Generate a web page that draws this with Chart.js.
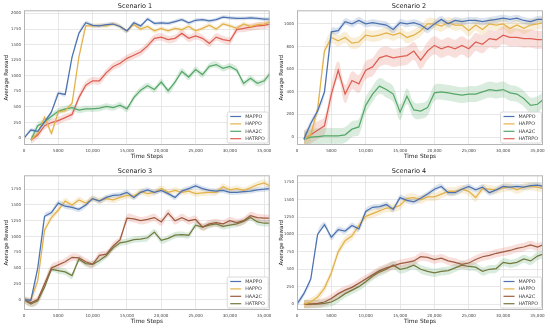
<!DOCTYPE html>
<html>
<head>
<meta charset="utf-8">
<script src="https://cdn.jsdelivr.net/npm/chart.js@4"></script>
<style>
  body { margin: 0; background: #fff; width: 550px; height: 329px; overflow: hidden; position: relative; }
  canvas { position: absolute; }
</style>
</head>
<body>
<canvas id="c1" width="275" height="165" style="left:0;top:0"></canvas>
<canvas id="c2" width="275" height="165" style="left:275px;top:0"></canvas>
<canvas id="c3" width="275" height="165" style="left:0;top:165px"></canvas>
<canvas id="c4" width="275" height="165" style="left:275px;top:165px"></canvas>
<script>
// time steps shared by every curve
const steps = [0, 1000, 2000, 3000, 4000, 5000, 6000, 7000, 8000, 9000, 10000, 11000, 12000, 13000, 14000, 15000,
  16000, 17000, 18000, 19000, 20000, 21000, 22000, 23000, 24000, 25000, 26000, 27000, 28000, 29000, 30000,
  31000, 32000, 33000, 34000, 35000, 35800];

const algos = ['MAPPO', 'HAPPO', 'HAA2C', 'HATRPO'];
const titles = ['Scenario 1', 'Scenario 2', 'Scenario 3', 'Scenario 4'];

const xTicks = [0, 5000, 10000, 15000, 20000, 25000, 30000, 35000];
const xTickLabels = ['0', '5000', '10,000', '15,000', '20,000', '25,000', '30,000', '35,000'];
const yTicks1 = [0, 250, 500, 750, 1000, 1250, 1500, 1750, 2000];
const yTicks2 = [0, 200, 400, 600, 800, 1000];
const yTicks3 = [0, 250, 500, 750, 1000, 1250, 1500, 1750];
const yTicks4 = [0, 250, 500, 750, 1000, 1250, 1500, 1750];

// Scenario 1
const s1Mappo = [0, 130, 110, 260, 420, 720, 700, 1300, 1680, 1850, 1810, 1800, 1820, 1830, 1790, 1720, 1850, 1800, 1910, 1840, 1850, 1840, 1870, 1900, 1850, 1890, 1900, 1880, 1900, 1940, 1930, 1920, 1920, 1930, 1920, 1910, 1910];
const s1Happo = [null, -30, 80, 330, 80, 420, 440, 560, 1300, 1800, 1800, 1810, 1800, 1830, 1790, 1720, 1820, 1750, 1790, 1720, 1760, 1720, 1760, 1740, 1790, 1720, 1760, 1810, 1750, 1830, 1800, 1760, 1830, 1790, 1820, 1830, 1860];
const s1Haa2c = [null, -30, 200, 260, 350, 430, 470, 490, 450, 470, 470, 480, 510, 490, 530, 470, 650, 770, 840, 780, 900, 760, 900, 1070, 980, 1100, 1020, 1150, 1180, 1120, 1150, 1090, 880, 960, 880, 920, 1030];
const s1Hatrpo = [null, -30, 50, 200, 250, 280, 330, 380, 650, 850, 920, 920, 1050, 1150, 1200, 1280, 1330, 1380, 1480, 1600, 1620, 1580, 1600, 1680, 1600, 1640, 1600, 1520, 1620, 1580, 1560, 1740, 1760, 1780, 1800, 1810, 1830];
const s1Band = [30, 35, 50, 60];

// Scenario 2
const s2Mappo = [null, -20, 120, 230, 400, 930, 940, 1020, 1000, 1030, 1000, 1010, 1000, 990, 950, 1010, 1000, 1010, 990, 950, 1000, 1040, 1000, 1030, 1020, 1030, 1030, 1020, 1030, 1040, 1050, 1040, 1050, 1030, 1020, 1040, 1040];
const s2Happo = [null, -20, 20, 250, 760, 880, 850, 880, 830, 840, 900, 890, 900, 920, 900, 920, 880, 900, 940, 1000, 1000, 980, 1010, 990, 990, 940, 990, 950, 1000, 990, 1000, 960, 990, 960, 990, 1000, 1010];
const s2Haa2c = [null, -20, 0, 5, 10, 10, 10, 20, 70, 90, 280, 380, 450, 420, 380, 220, 360, 240, 230, 260, 390, 400, 390, 380, 370, 380, 380, 400, 420, 410, 420, 390, 380, 340, 280, 290, 330];
const s2Hatrpo = [null, -20, 20, 60, 100, 380, 590, 380, 500, 470, 590, 620, 700, 720, 700, 710, 720, 760, 680, 760, 810, 780, 800, 780, 810, 780, 840, 820, 870, 860, 900, 880, 880, 870, 870, 860, 860];
const s2Band = [30, 50, 70, 80];

// Scenario 3
const s3Mappo = [0, -10, 500, 1320, 1380, 1530, 1480, 1460, 1430, 1500, 1600, 1560, 1620, 1650, 1660, 1700, 1620, 1700, 1740, 1700, 1730, 1680, 1620, 1720, 1760, 1800, 1760, 1730, 1720, 1730, 1700, 1700, 1710, 1720, 1740, 1750, 1760];
const s3Happo = [0, 0, 300, 1100, 1300, 1420, 1560, 1500, 1580, 1530, 1600, 1570, 1600, 1580, 1620, 1650, 1640, 1710, 1680, 1700, 1760, 1700, 1730, 1700, 1720, 1680, 1690, 1700, 1700, 1790, 1740, 1760, 1730, 1770, 1820, 1850, 1800];
const s3Haa2c = [0, -50, 0, 250, 500, 550, 600, 670, 660, 600, 560, 700, 720, 850, 950, 1290, 1280, 1250, 1270, 1300, 1230, 1370, 1250, 1300, 1250, 1270, 1150, 1200, 1220, 1200, 1250, 1220, 1250, 1330, 1300, 1290, 1290];
const s3Hatrpo = [0, -70, -20, 200, 480, 460, 440, 380, 640, 570, 560, 620, 700, 820, 900, 920, 950, 960, 980, 1070, 940, 970, 1020, 1030, 1020, 1180, 1150, 1180, 1200, 1160, 1180, 1200, 1240, 1300, 1230, 1210, 1210];
const s3Band = [40, 50, 60, 50];

// Scenario 4
const s4Mappo = [0, 150, 360, 1000, 1140, 960, 1070, 1050, 1130, 1080, 1330, 1390, 1400, 1430, 1360, 1530, 1490, 1470, 1520, 1580, 1650, 1690, 1600, 1600, 1650, 1690, 1640, 1680, 1600, 1640, 1690, 1680, 1690, 1680, 1700, 1710, 1690];
const s4Happo = [null, 0, 30, 100, 230, 450, 750, 910, 980, 1130, 1260, 1300, 1340, 1380, 1380, 1420, 1520, 1530, 1500, 1540, 1540, 1580, 1620, 1620, 1650, 1620, 1530, 1660, 1650, 1640, 1670, 1680, 1640, 1680, 1690, 1680, 1660];
const s4Haa2c = [null, 0, 0, 10, 30, 80, 150, 200, 240, 300, 360, 420, 480, 520, 550, 580, 600, 620, 680, 670, 640, 660, 620, 600, 570, 590, 640, 680, 700, 730, 750, 770, 800, 820, 850, 820, 850];
const s4Hatrpo = [null, 0, 0, 0, 10, 30, 80, 150, 200, 250, 320, 400, 460, 500, 560, 500, 520, 560, 500, 470, 450, 470, 480, 520, 560, 540, 530, 470, 500, 510, 600, 580, 600, 650, 620, 690, 720];
const s4Band = [40, 60, 60, 60];

const lineColors = ['#4c72b0', '#e3b24a', '#55a868', '#de5f52'];
const lineColorsBrown = ['#4c72b0', '#e3b24a', '#9c5b3e', '#74793e'];
const bandColors = ['rgba(76,114,176,0.2)', 'rgba(227,178,74,0.22)', 'rgba(85,168,104,0.22)', 'rgba(222,95,82,0.2)'];
const bandColorsBrown = ['rgba(76,114,176,0.2)', 'rgba(227,178,74,0.22)', 'rgba(222,95,82,0.2)', 'rgba(85,168,104,0.22)'];

Chart.defaults.font.family = "'DejaVu Sans', sans-serif";
Chart.defaults.color = '#333';

function pts(vals) {
    return vals.map(function(v, i) { return { x: steps[i], y: v }; });
}

function shift(vals, d) {
    return vals.map(function(v) { return v === null ? null : v + d; });
}

function buildDatasets(series, band, colors, fills) {
    var ds = [];
    // shaded spread first, lines on top
    series.forEach(function(vals, k) {
        ds.push({ data: pts(shift(vals, band[k])), borderWidth: 0, pointRadius: 0, tension: 0.4,
                  fill: '+1', backgroundColor: fills[k], order: 10 });
        ds.push({ data: pts(shift(vals, -band[k])), borderWidth: 0, pointRadius: 0, tension: 0.4,
                  fill: false, order: 10 });
    });
    series.forEach(function(vals, k) {
        ds.push({ data: pts(vals), borderColor: colors[k], borderWidth: 1.25, pointRadius: 0,
                  fill: false, order: 1 + k });
    });
    return ds;
}

// axes frame + legend box in the lower right corner of the plot
const framePlugin = {
    id: 'frame',
    afterDraw(chart, args, opts) {
        var ctx = chart.ctx, a = chart.chartArea;
        ctx.save();
        ctx.strokeStyle = '#b5b5b5';
        ctx.lineWidth = 1;
        ctx.strokeRect(a.left + 0.5, a.top + 0.5, a.width - 1, a.height - 1);

        var w = 41, h = 31;
        var x0 = a.right - w - 1.5, y0 = a.bottom - h - 2;
        ctx.fillStyle = 'rgba(255,255,255,0.85)';
        ctx.strokeStyle = '#d0d0d0';
        ctx.lineWidth = 0.8;
        ctx.beginPath();
        ctx.roundRect(x0, y0, w, h, 1.5);
        ctx.fill();
        ctx.stroke();

        ctx.font = "4.8px 'DejaVu Sans'";
        ctx.textBaseline = 'middle';
        algos.forEach(function(name, i) {
            var y = y0 + 4.5 + i * 7.4;
            ctx.strokeStyle = opts.colors[i];
            ctx.lineWidth = 1.2;
            ctx.beginPath();
            ctx.moveTo(x0 + 3, y);
            ctx.lineTo(x0 + 14, y);
            ctx.stroke();
            ctx.fillStyle = '#333';
            ctx.fillText(name, x0 + 18, y);
        });
        ctx.restore();
    }
};

function makeChart(id, title, series, band, colors, fills, yTicks, yMin, yMax, yWidth, padRight) {
    var ctx = document.getElementById(id).getContext('2d');
    return new Chart(ctx, {
        type: 'line',
        data: { datasets: buildDatasets(series, band, colors, fills) },
        plugins: [framePlugin],
        options: {
            responsive: false,
            animation: false,
            devicePixelRatio: 1,
            layout: { padding: { left: 0, right: padRight, top: 0, bottom: 0 } },
            plugins: {
                legend: { display: false },
                tooltip: { enabled: false },
                title: {
                    display: true,
                    text: title,
                    color: '#222',
                    font: { size: 6.5, weight: 'normal', lineHeight: 1 },
                    padding: { top: 3, bottom: 0.8 }
                },
                frame: { colors: colors }
            },
            scales: {
                x: {
                    type: 'linear',
                    min: 0,
                    max: 35800,
                    afterBuildTicks: function(s) { s.ticks = xTicks.map(function(v) { return { value: v }; }); },
                    afterFit: function(s) { s.height = 20; },
                    ticks: {
                        autoSkip: false, maxRotation: 0, minRotation: 0, padding: 3.5,
                        font: { size: 4.1 }, color: '#444',
                        callback: function(v, i) { return xTickLabels[i]; }
                    },
                    grid: { color: '#e2e2e2', lineWidth: 0.8, drawTicks: false },
                    border: { display: false },
                    title: { display: true, text: 'Time Steps', color: '#222',
                             font: { size: 5.8, lineHeight: 1 }, padding: { top: 0, bottom: 5.6 } }
                },
                y: {
                    min: yMin,
                    max: yMax,
                    afterBuildTicks: function(s) { s.ticks = yTicks.map(function(v) { return { value: v }; }); },
                    afterFit: function(s) { s.width = yWidth; },
                    ticks: { padding: 3, font: { size: 3.9 }, color: '#444',
                             callback: function(v) { return String(v); } },
                    grid: { color: '#e2e2e2', lineWidth: 0.8, drawTicks: false },
                    border: { display: false },
                    title: { display: true, text: 'Average Reward', color: '#222',
                             font: { size: 5.6, lineHeight: 1 }, padding: { top: 3.4, bottom: 0 } }
                }
            }
        }
    });
}

makeChart('c1', titles[0], [s1Mappo, s1Happo, s1Haa2c, s1Hatrpo], s1Band, lineColors, bandColors, yTicks1, -110, 2050, 24, 5);
makeChart('c2', titles[1], [s2Mappo, s2Happo, s2Haa2c, s2Hatrpo], s2Band, lineColors, bandColors, yTicks2, -70, 1120, 22, 7);
makeChart('c3', titles[2], [s3Mappo, s3Happo, s3Haa2c, s3Hatrpo], s3Band, lineColorsBrown, bandColorsBrown, yTicks3, -165, 1970, 24, 5);
makeChart('c4', titles[3], [s4Mappo, s4Happo, s4Haa2c, s4Hatrpo], s4Band, lineColorsBrown, bandColorsBrown, yTicks4, -85, 1850, 22, 7);
</script>
</body>
</html>
